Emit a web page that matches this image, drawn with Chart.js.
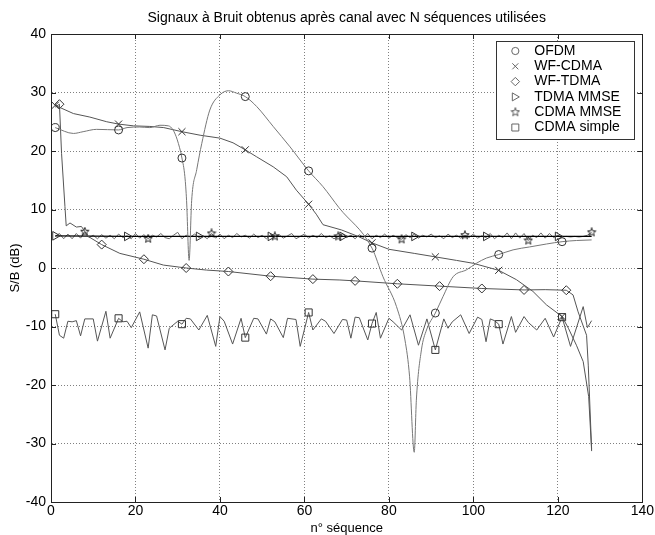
<!DOCTYPE html>
<html>
<head>
<meta charset="utf-8">
<script src="https://cdn.jsdelivr.net/npm/chart.js@4.4.0/dist/chart.umd.min.js"></script>
<style>
html,body{margin:0;padding:0;background:#fff;}
canvas{display:block;}
</style>
</head>
<body>
<canvas id="c" width="655" height="535"></canvas>
<script>
// ---------------- data ----------------
const chartTitle = 'Signaux à Bruit obtenus après canal avec N séquences utilisées';
const xTitle = 'n° séquence';
const yTitle = 'S/B (dB)';
const seriesNames = ['OFDM', 'WF-CDMA', 'WF-TDMA', 'TDMA MMSE', 'CDMA MMSE', 'CDMA simple'];
const xTicks = [0, 20, 40, 60, 80, 100, 120, 140];
const yTicks = [-40, -30, -20, -10, 0, 10, 20, 30, 40];

const ofdmX = [1, 5.3, 7.6, 10.8, 16, 18, 21, 23.4, 25.8, 27.8, 28.9, 29.9, 31, 31.7, 32.1, 32.7, 33.3, 34.5, 35.7, 37.6, 40, 42, 43.9, 46, 48.7, 52.6, 56.6, 61, 64.4, 68.2, 76, 78.6, 81.8, 83.8, 84.9, 86, 86.5, 87.7, 88.9, 91, 92.8, 95.2, 98.4, 100.7, 103.1, 106, 109.4, 113.3, 117.3, 121, 124.4, 128];
const ofdmY = [24.0, 23.0, 23.3, 23.7, 23.6, 24.0, 24.1, 24.0, 24.4, 24.3, 23.6, 21.9, 18.8, 15.6, 11.5, 1.3, 11.5, 16.8, 21.3, 27.0, 29.6, 30.3, 29.9, 29.3, 27.6, 24.2, 20.7, 16.6, 13.9, 10.3, 3.4, -1.5, -6.6, -12.3, -18.6, -31.5, -22.6, -14.0, -10.6, -7.7, -4.9, -1.5, -0.3, 0.8, 1.7, 2.3, 3.1, 3.6, 4.1, 4.5, 4.7, 4.8];
const ofdmMarkX = [1, 16, 31, 46, 61, 76, 91, 106, 121];

const wfCdmaX = [1, 5.3, 9.2, 13.2, 16, 19.5, 23.4, 26.7, 31, 35.3, 40, 43.1, 46, 48.7, 52.6, 55.8, 58.1, 61, 62.8, 64.4, 68.8, 72.7, 76, 80, 86, 91, 96, 100, 106, 110.2, 114.1, 117.3, 121, 122.5, 124.4, 126, 127.3, 128];
const wfCdmaY = [27.8, 26.4, 25.8, 25.0, 24.6, 24.3, 24.2, 24.0, 23.3, 22.7, 22.2, 21.4, 20.2, 19.0, 17.3, 15.6, 13.3, 10.9, 9.2, 7.4, 6.5, 5.4, 4.3, 3.2, 2.5, 1.9, 1.3, 0.8, -0.4, -2.0, -4.0, -6.3, -8.3, -10.3, -13.2, -16.0, -22.0, -31.3];
const wfCdmaMarkX = [1, 16, 31, 46, 61, 76, 91, 106, 121];

const wfTdmaX = [1, 2, 2.5, 3.3, 3.6, 4.5, 6, 7.2, 8.8, 12, 16.3, 22, 26.6, 32, 36.8, 42, 52, 62, 68.4, 72, 82, 92, 102, 112, 117, 122, 123.6, 124.8, 126.8, 127.2, 128];
const wfTdmaY = [27.5, 28.0, 19.6, 10.5, 7.2, 7.7, 7.0, 7.1, 5.4, 4.0, 2.5, 1.5, 0.5, 0.0, -0.35, -0.6, -1.4, -1.9, -2.05, -2.2, -2.7, -3.1, -3.5, -3.75, -3.7, -3.8, -4.6, -7.5, -11.5, -16.6, -31.0];
const wfTdmaMarkX = [2, 12, 22, 32, 42, 52, 62, 72, 82, 92, 102, 112, 122];

const tdmaMmseX = [1, 18, 35, 52, 69, 86, 103, 120, 128];
const tdmaMmseY = [5.5, 5.4, 5.4, 5.4, 5.4, 5.4, 5.4, 5.4, 5.4];
const tdmaMmseMarkX = [1, 18, 35, 52, 69, 86, 103, 120];

// one value per sequence number 1..128
const cdmaMmseY = [5.4, 5.9, 5.0, 5.8, 5.0, 5.9, 5.1, 6.2, 5.2, 5.6, 5.0, 5.7, 5.1, 5.6, 5.0, 5.8, 5.2, 5.5, 5.0, 5.9, 5.1, 5.7, 5.0, 5.6, 5.3, 5.9, 5.2, 5.0, 5.6, 6.1, 5.0, 5.6, 5.3, 5.8, 5.2, 5.5, 5.0, 5.9, 5.1, 5.8, 5.0, 5.6, 5.2, 5.9, 5.3, 5.6, 5.1, 5.8, 5.2, 5.6, 5.0, 5.7, 5.4, 5.7, 5.1, 5.5, 5.9, 5.0, 5.4, 5.8, 5.1, 5.6, 5.2, 5.9, 5.2, 5.5, 5.0, 5.4, 5.9, 5.2, 5.6, 5.0, 5.7, 5.2, 5.9, 5.0, 5.6, 5.2, 5.8, 5.1, 5.6, 5.2, 4.9, 5.7, 5.2, 5.8, 5.1, 5.6, 5.3, 5.8, 5.2, 5.5, 5.0, 5.8, 5.2, 5.6, 5.1, 5.6, 5.2, 5.8, 5.1, 5.5, 5.2, 5.9, 5.0, 5.6, 5.2, 6.0, 5.0, 6.0, 5.1, 5.9, 4.7, 5.6, 5.2, 6.0, 5.1, 5.9, 5.2, 5.6, 5.3, 5.4, 5.3, 5.4, 5.3, 5.4, 5.6, 6.1];
const cdmaMmseMarkX = [8, 23, 38, 53, 68, 83, 98, 113, 128];

const cdmaSimpleX = [1, 2, 3, 4, 5, 6, 7, 8, 10, 11, 13, 14, 16, 17, 18, 19, 21, 23, 24, 25, 27, 28, 30, 31, 32, 33, 35, 37, 39, 40, 41, 43, 45, 46, 48, 49, 51, 52, 53, 55, 56, 58, 59, 61, 62, 64, 65, 67, 69, 70, 71, 72, 73, 75, 76, 77, 78, 80, 81, 83, 85, 87, 89, 91, 93, 94, 95, 97, 99, 101, 102, 103, 104, 105, 106, 107, 109, 110, 112, 113, 115, 117, 119, 121, 123, 126, 127, 128];
const cdmaSimpleY = [-7.9, -11.5, -12.0, -9.1, -9.2, -9.0, -11.6, -8.7, -8.7, -12.5, -7.4, -12.0, -8.6, -9.2, -9.1, -10.2, -7.5, -13.7, -8.0, -8.2, -14.0, -10.3, -9.1, -9.6, -8.6, -8.7, -10.6, -8.1, -13.4, -8.3, -9.1, -13.0, -8.6, -11.9, -8.6, -8.7, -11.3, -8.7, -9.2, -11.9, -8.6, -8.8, -13.4, -7.6, -10.6, -8.7, -9.1, -11.2, -8.8, -8.9, -12.0, -8.4, -8.5, -12.3, -9.5, -7.6, -12.0, -8.6, -9.2, -10.6, -8.0, -13.2, -8.7, -14.0, -8.7, -10.3, -9.2, -8.0, -11.2, -8.4, -8.8, -12.6, -8.7, -9.0, -9.6, -13.0, -8.3, -11.0, -8.3, -9.3, -10.6, -8.6, -11.8, -8.4, -13.4, -6.6, -10.2, -9.0];
const cdmaSimpleMarkX = [1, 16, 31, 46, 61, 76, 91, 106, 121];

// ---------------- helpers ----------------
const FONT = "'Liberation Sans', Arial, Helvetica, sans-serif";
Chart.defaults.font.family = FONT;
Chart.defaults.color = '#000';

function pts(xs, ys) { return xs.map((x, i) => ({x: x, y: ys[i]})); }

function makeStar(color, size) {
  const c = document.createElement('canvas');
  c.width = size; c.height = size;
  const g = c.getContext('2d');
  g.strokeStyle = color; g.lineWidth = 1;
  const cx = size / 2, cy = size / 2, R = size / 2 - 0.6, r = R * 0.42;
  g.beginPath();
  for (let k = 0; k < 10; k++) {
    const a = -Math.PI / 2 + k * Math.PI / 5;
    const rr = (k % 2) ? r : R;
    const px = cx + rr * Math.cos(a), py = cy + rr * Math.sin(a);
    if (k) g.lineTo(px, py); else g.moveTo(px, py);
  }
  g.closePath(); g.stroke();
  return c;
}
const starPlot = makeStar('#222', 10);

const MARK = '#333';
function markRadius(list, r) {
  return ctx => (ctx.raw && list.indexOf(ctx.raw.x) !== -1) ? r : 0;
}

function lineDs(label, data, color, marks, style, r, extra) {
  return Object.assign({
    label: label,
    data: data,
    borderColor: color,
    backgroundColor: 'rgba(0,0,0,0)',
    borderWidth: 1,
    tension: 0,
    pointStyle: style,
    pointRadius: markRadius(marks, r),
    pointHoverRadius: markRadius(marks, r),
    pointBorderColor: MARK,
    pointBackgroundColor: 'rgba(0,0,0,0)',
    pointBorderWidth: 1
  }, extra || {});
}

const datasets = [
  lineDs(seriesNames[0], pts(ofdmX, ofdmY), '#777', ofdmMarkX, 'circle', 4, {cubicInterpolationMode: 'monotone'}),
  lineDs(seriesNames[1], pts(wfCdmaX, wfCdmaY), '#555', wfCdmaMarkX, 'crossRot', 5),
  lineDs(seriesNames[2], pts(wfTdmaX, wfTdmaY), '#555', wfTdmaMarkX, 'rectRot', 4.5),
  lineDs(seriesNames[3], pts(tdmaMmseX, tdmaMmseY), '#000', tdmaMmseMarkX, 'triangle', 5, {pointRotation: 90, borderWidth: 1.3}),
  lineDs(seriesNames[4], cdmaMmseY.map((v, i) => ({x: i + 1, y: v})), '#6a6a6a', cdmaMmseMarkX, starPlot, 5),
  lineDs(seriesNames[5], pts(cdmaSimpleX, cdmaSimpleY), '#555', cdmaSimpleMarkX, 'rect', 5)
];

// legend marker drawing (symbols only, text is drawn by Chart.js legend)
function legendMarker(ctx, i, x, y) {
  ctx.save();
  ctx.strokeStyle = '#666';
  ctx.lineWidth = 1;
  ctx.beginPath();
  if (i === 0) { ctx.arc(x, y, 3.6, 0, Math.PI * 2); }
  else if (i === 1) { ctx.moveTo(x - 3, y - 3); ctx.lineTo(x + 3, y + 3); ctx.moveTo(x - 3, y + 3); ctx.lineTo(x + 3, y - 3); }
  else if (i === 2) { ctx.moveTo(x, y - 4.2); ctx.lineTo(x + 4.2, y); ctx.lineTo(x, y + 4.2); ctx.lineTo(x - 4.2, y); ctx.closePath(); }
  else if (i === 3) { ctx.moveTo(x - 3, y - 4); ctx.lineTo(x + 4, y); ctx.lineTo(x - 3, y + 4); ctx.closePath(); }
  else if (i === 5) { ctx.rect(x - 3.5, y - 3.5, 7, 7); }
  ctx.stroke();
  if (i === 4) { const s = makeStar('#555', 10); ctx.drawImage(s, x - 5, y - 5); }
  ctx.restore();
}

const LEG_PAD = 1.3;
const LEG_FONT = 14;
const legendPlugin = {
  id: 'legendBox',
  afterLayout(chart) {
    const lg = chart.legend, ca = chart.chartArea;
    if (!lg) return;
    lg.left = ca.right - 140.3;
    lg.top = ca.top + 8.7;
    lg.right = ca.right;
    lg.bottom = ca.bottom;
    if (!lg._wrapped) {
      const orig = lg.draw;
      lg.draw = function (area) {
        const ctx = chart.ctx, c = chart.chartArea;
        ctx.save();
        ctx.fillStyle = '#fff';
        ctx.fillRect(c.right - 146, c.top + 7, 138, 98);
        ctx.strokeStyle = '#333';
        ctx.lineWidth = 1;
        ctx.strokeRect(Math.round(c.right - 146) + 0.5, Math.round(c.top + 7) + 0.5, 138, 98);
        ctx.restore();
        orig.call(this, area);
        for (let i = 0; i < seriesNames.length; i++) {
          legendMarker(ctx, i, this.left + LEG_PAD + 12, this.top + LEG_PAD + i * (LEG_FONT + LEG_PAD) + LEG_FONT / 2);
        }
      };
      lg._wrapped = true;
    }
  }
};

const framePlugin = {
  id: 'frameTicks',
  afterDraw(chart) {
    const ctx = chart.ctx, ca = chart.chartArea;
    const xs = chart.scales.x, ys = chart.scales.y;
    ctx.save();
    ctx.strokeStyle = '#222';
    ctx.lineWidth = 1;
    ctx.beginPath();
    xTicks.forEach(v => {
      const p = Math.round(xs.getPixelForValue(v)) + 0.5;
      ctx.moveTo(p, ca.bottom); ctx.lineTo(p, ca.bottom - 5);
      ctx.moveTo(p, ca.top); ctx.lineTo(p, ca.top + 5);
    });
    yTicks.forEach(v => {
      const p = Math.round(ys.getPixelForValue(v)) + 0.5;
      ctx.moveTo(ca.left, p); ctx.lineTo(ca.left + 5, p);
      ctx.moveTo(ca.right, p); ctx.lineTo(ca.right - 5, p);
    });
    ctx.stroke();
    ctx.strokeRect(Math.round(ca.left) + 0.5, Math.round(ca.top) + 0.5, Math.round(ca.right - ca.left), Math.round(ca.bottom - ca.top));
    ctx.restore();
  }
};

new Chart(document.getElementById('c'), {
  type: 'line',
  data: {datasets: datasets},
  options: {
    responsive: false,
    animation: false,
    events: [],
    layout: {padding: {left: 0, right: 12, top: 0, bottom: 0}},
    scales: {
      x: {
        type: 'linear',
        min: 0, max: 140,
        afterBuildTicks: s => { s.ticks = xTicks.map(v => ({value: v})); },
        afterFit: s => { s.height = 33; },
        ticks: {padding: 1, font: {size: 14}, color: '#000', maxRotation: 0},
        grid: {color: '#808080', drawTicks: false, lineWidth: 1},
        border: {display: true, color: '#222', width: 1, dash: [1, 2]},
        title: {display: true, text: xTitle, font: {size: 13, lineHeight: 1}, padding: {top: 0, bottom: 0}, color: '#000'}
      },
      y: {
        type: 'linear',
        min: -40, max: 40,
        afterBuildTicks: s => { s.ticks = yTicks.map(v => ({value: v})); },
        afterFit: s => { s.width = 51; },
        ticks: {padding: 5, font: {size: 14}, color: '#000'},
        grid: {color: '#808080', drawTicks: false, lineWidth: 1},
        border: {display: true, color: '#222', width: 1, dash: [1, 2]},
        title: {display: true, text: yTitle, font: {size: 13}, padding: {top: 7.5, bottom: 0}, color: '#000'}
      }
    },
    plugins: {
      title: {display: true, fullSize: false, text: chartTitle, font: {size: 14, weight: 'normal'}, color: '#000', padding: {top: 10.1, bottom: 7.1}},
      tooltip: {enabled: false},
      legend: {
        display: true,
        position: 'chartArea',
        align: 'start',
        labels: {
          font: {size: LEG_FONT},
          color: '#000',
          boxWidth: 24,
          boxHeight: 13,
          padding: LEG_PAD,
          generateLabels: chart => chart.data.datasets.map((d, i) => ({
            text: d.label,
            fillStyle: 'rgba(0,0,0,0)',
            strokeStyle: 'rgba(0,0,0,0)',
            lineWidth: 0,
            hidden: false,
            datasetIndex: i
          }))
        }
      }
    }
  },
  plugins: [legendPlugin, framePlugin]
});
</script>
</body>
</html>
